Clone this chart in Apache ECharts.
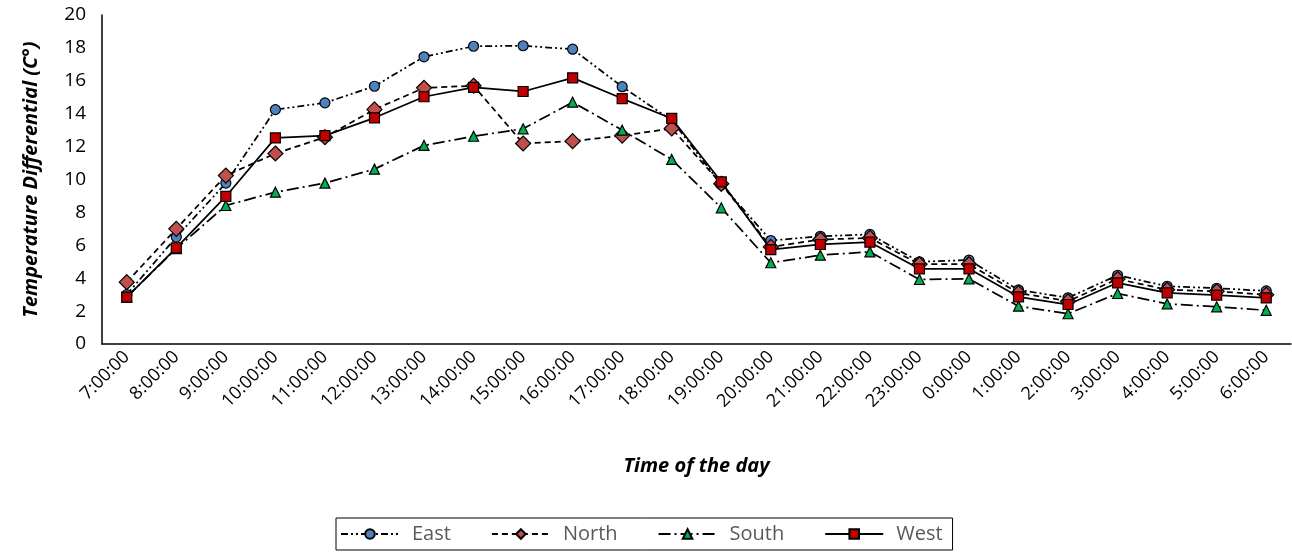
<!DOCTYPE html>
<html>
<head>
<meta charset="utf-8">
<script src="https://cdn.jsdelivr.net/npm/echarts@6/dist/echarts.min.js"></script>
<style>
html,body{margin:0;padding:0;background:#fff;}
#chart{width:1292px;height:553px;}
</style>
</head>
<body>
<div id="chart"></div>
<script>
const categories = ["7:00:00","8:00:00","9:00:00","10:00:00","11:00:00","12:00:00","13:00:00","14:00:00","15:00:00","16:00:00","17:00:00","18:00:00","19:00:00","20:00:00","21:00:00","22:00:00","23:00:00","0:00:00","1:00:00","2:00:00","3:00:00","4:00:00","5:00:00","6:00:00"];
const east  = [3.0, 6.5, 9.78, 14.25, 14.66, 15.67, 17.46, 18.1, 18.13, 17.92, 15.64, 13.6, 9.7, 6.29, 6.55, 6.66, 5.0, 5.1, 3.29, 2.81, 4.18, 3.51, 3.39, 3.23];
const north = [3.76, 7.0, 10.24, 11.58, 12.57, 14.26, 15.57, 15.7, 12.19, 12.33, 12.67, 13.1, 9.74, 5.9, 6.35, 6.45, 4.85, 4.85, 3.1, 2.6, 3.95, 3.3, 3.2, 3.0];
const south = [2.85, 5.8, 8.42, 9.23, 9.78, 10.63, 12.07, 12.63, 13.08, 14.7, 13.0, 11.22, 8.28, 4.94, 5.4, 5.6, 3.92, 3.96, 2.3, 1.84, 3.07, 2.44, 2.26, 2.05];
const west  = [2.85, 5.85, 8.97, 12.53, 12.67, 13.75, 15.03, 15.6, 15.35, 16.18, 14.92, 13.71, 9.86, 5.74, 6.05, 6.19, 4.57, 4.57, 2.87, 2.4, 3.72, 3.11, 2.97, 2.81];
const yTicks = {min: 0, max: 20, interval: 2};

const FONT = "'Open Sans', 'Noto Sans', sans-serif";
const chart = echarts.init(document.getElementById('chart'), null, {renderer: 'canvas'});

function mkSeries(name, data, symbol, size, fill, dash) {
  return {
    name: name, type: 'line', data: data,
    symbol: symbol, symbolSize: size, showSymbol: true,
    lineStyle: {color: '#000', width: 1.75, type: dash},
    itemStyle: {color: fill, borderColor: '#000', borderWidth: 1.2},
    emphasis: {disabled: true},
    animation: false
  };
}

chart.setOption({
  backgroundColor: '#fff',
  animation: false,
  grid: {left: 102, right: 1, top: 15, bottom: 209},
  legend: {
    left: 336, top: 518, width: 660,
    padding: [6, 10, 6, 4],
    borderColor: '#000', borderWidth: 1,
    itemWidth: 58, itemHeight: 12, itemGap: 40,
    textStyle: {color: '#595959', fontSize: 20, fontFamily: FONT, padding: [0, 0, 0, 8]},
    data: ['East', 'North', 'South', 'West']
  },
  xAxis: {
    type: 'category', data: categories, boundaryGap: true,
    axisLine: {lineStyle: {color: '#000', width: 1.5}},
    axisTick: {show: false},
    axisLabel: {rotate: 45, color: '#000', fontSize: 18, fontFamily: FONT, margin: 10, interval: 0},
    name: 'Time of the day', nameLocation: 'middle', nameGap: 112,
    nameTextStyle: {color: '#000', fontSize: 20, fontWeight: 'bold', fontStyle: 'italic', fontFamily: FONT}
  },
  yAxis: {
    type: 'value', min: yTicks.min, max: yTicks.max, interval: yTicks.interval,
    axisLine: {show: true, lineStyle: {color: '#000', width: 1.5}},
    axisTick: {show: false},
    splitLine: {show: false},
    axisLabel: {color: '#000', fontSize: 19, fontFamily: FONT, margin: 16},
    name: 'Temperature Differential (C°)', nameLocation: 'middle', nameGap: 61, nameRotate: 90,
    nameTextStyle: {color: '#000', fontSize: 20, fontWeight: 'bold', fontStyle: 'italic', fontFamily: FONT}
  },
  series: [
    mkSeries('East', east, 'circle', 10, '#4F81BD', [7, 3, 2, 3, 2, 3]),
    mkSeries('North', north, 'diamond', 15, '#C0504D', [6, 4]),
    mkSeries('South', south, 'triangle', 10, '#00B050', [12, 4, 2, 4]),
    mkSeries('West', west, 'rect', 10, '#C00000', 'solid')
  ]
});
</script>
</body>
</html>
